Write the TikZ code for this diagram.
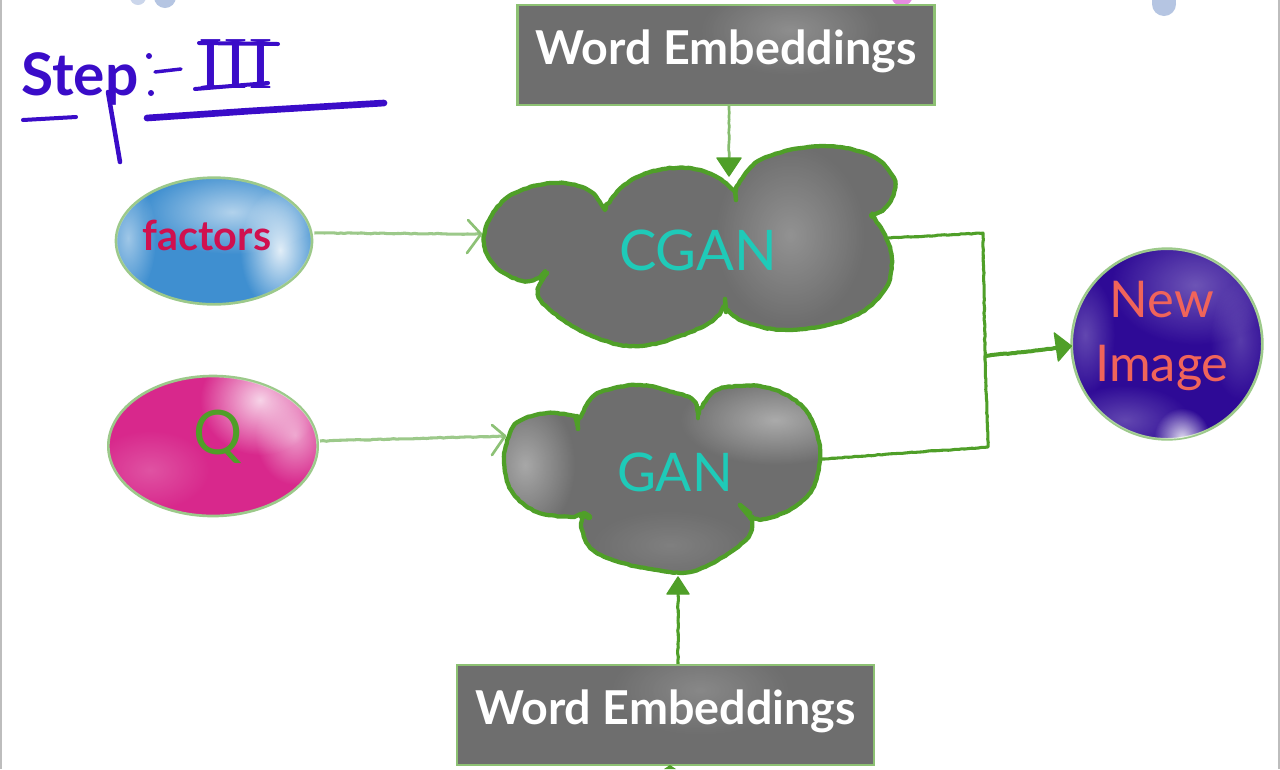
\documentclass[tikz,border=0pt]{standalone}
\usepackage{fontspec}
\setmainfont{Lato}
\newfontfamily\serifhand{Liberation Serif}
\usetikzlibrary{arrows.meta,decorations.pathmorphing,shapes.geometric,calc,fadings}
\definecolor{inkgreen}{HTML}{4F9F28}
\definecolor{palegreen}{HTML}{9CC98A}
\definecolor{slate}{HTML}{6E6E6E}
\definecolor{penblue}{HTML}{3A0CC8}
\definecolor{teal}{HTML}{1FCAB8}
\definecolor{skyb}{HTML}{3F8FD0}
\definecolor{rosem}{HTML}{D8288C}
\definecolor{indigoc}{HTML}{2E0A96}
\definecolor{coral}{HTML}{F0645A}
\definecolor{crim}{HTML}{D0104F}
\definecolor{dotblue}{HTML}{B5C5E2}
\definecolor{dotpink}{HTML}{E58BE0}
\definecolor{edgegray}{HTML}{BDBDBD}
\tikzfading[name=softblot,inner color=transparent!0,outer color=transparent!100]
\tikzset{
  rough/.style={decorate,decoration={random steps,segment length=2.5pt,amplitude=.3pt}},
  wordbox/.style={draw=inkgreen!65!white,line width=1.8pt,minimum width=313pt,minimum height=75pt,inner sep=0pt},
  wordtext/.style={text=white,inner sep=0pt,font=\fontsize{35}{37}\selectfont\bfseries},
  oval/.style={ellipse,draw=palegreen,line width=2pt,inner sep=0pt},
  darkline/.style={draw=inkgreen,line width=2.3pt,rough},
  paleline/.style={draw=palegreen,line width=2.3pt,rough},
  headline/.style={draw=palegreen!80!inkgreen,line width=2pt,line cap=round,line join=round},
  cloudline/.style={draw=inkgreen,line width=3.2pt,line join=round,rough},
  notch/.style={draw=inkgreen,line width=3.4pt,line cap=round},
  solidhead/.style={draw=inkgreen,fill=inkgreen,line width=1pt,line join=round},
  cloudtext/.style={text=teal,font=\fontsize{42}{44}\selectfont},
  pen/.style={draw=penblue,line cap=round},
  blot/.style={fill=white,path fading=softblot,fill opacity=#1}
}
\newcommand{\cganpath}{(605,210) -- plot[smooth,tension=.65] coordinates {(606,208)(622,187)(650,172)(685,168)(715,176)(735,192)} -- plot[smooth,tension=.65] coordinates {(736,190)(760,160)(820,146)(870,155)(892,175)(894,192)(885,208)(871,215)} -- plot[smooth,tension=.65] coordinates {(872,217)(885,235)(892,262)(883,292)(850,318)(790,330)(745,322)(725,307)} -- plot[smooth,tension=.65] coordinates {(724,309)(700,328)(640,346)(590,335)(550,310)(538,292)(547,273)} -- plot[smooth,tension=.65] coordinates {(545,274)(525,281)(497,268)(484,243)(492,215)(515,193)(555,183)(588,190)(603,207)} -- cycle}
\newcommand{\ganpath}{(577,425) -- plot[smooth,tension=.65] coordinates {(578,423)(590,400)(607,390)(640,385)(673,392)(693,400)(698,415)} -- plot[smooth,tension=.65] coordinates {(699,413)(713,392)(737,386)(763,387)(790,397)(810,417)(820,450)(815,483)(800,503)(773,517)(753,518)(740,505)} -- plot[smooth,tension=.65] coordinates {(752,520)(748,537)(723,557)(690,572)(657,570)(623,563)(593,550)(582,530)(583,517)} -- plot[smooth,tension=.65] coordinates {(581,517)(540,513)(513,493)(504,463)(510,433)(522,420)(547,413)(575,416)} -- cycle}
\begin{document}
\begin{tikzpicture}[x=.75pt,y=-.75pt]
\useasboundingbox (0,0) rectangle (1280,769);
\fill[white] (0,0) rectangle (1280,769);
% window edges and cropped dots
\fill[edgegray] (0,0) rectangle (2,769);
\fill[edgegray] (1278,0) rectangle (1280,769);
\begin{scope}
\clip (0,0) rectangle (1280,769);
\fill[dotblue!70!white] (138,-3) circle (8);
\fill[dotblue] (165,-3) circle (11);
\fill[dotpink] (902,-5) circle (11);
\fill[dotblue] (1152,-5) rectangle (1176,4);
\fill[dotblue] (1164,4) circle (12);
\end{scope}

% handwritten title
\node[text=penblue,font=\fontsize{44}{46}\selectfont\bfseries,anchor=base west,inner sep=0pt] (steplabel) at (21,95) {Step};
\fill[penblue] (149,56) circle (3) (151,93) circle (3);
\draw[pen,line width=2.6pt] (155,72) -- (181,69);
\node[text=penblue,font=\serifhand\fontsize{56}{58}\selectfont,anchor=base,inner sep=0pt] (numeral) at (236,88) {III};
\draw[pen,line width=3pt] (199,43) -- (278,44);
\draw[pen,line width=3pt] (195,89) -- (268,83);
\draw[pen,line width=3pt] (23,120) -- (76,117);
\draw[pen,line width=3.4pt] (108,92) -- (120,162);
\draw[pen,line width=5pt] (147,118) -- (250,111) -- (384,103);

% boxes
\node[wordbox,fill=slate] (wtop) at (726,55) {};
\begin{scope}
\clip (517,5) rectangle (935,105);
\path[blot=.22] (790,30) ellipse [x radius=90,y radius=45];
\end{scope}
\node[wordtext] (wtoptext) at (726,51) {Word Embeddings};
\node[wordbox,fill=slate] (wbot) at (665.5,715) {};
\begin{scope}
\clip (457,665) rectangle (874,765);
\path[blot=.18] (700,690) ellipse [x radius=90,y radius=45];
\end{scope}
\node[wordtext] (wbottext) at (665.5,711) {Word Embeddings};

% ovals
\node[oval,fill=skyb,minimum width=147pt,minimum height=95pt] (factors) at (214,241) {};
\begin{scope}
\clip (214,241) ellipse [x radius=97,y radius=62];
\path[blot=.6] (232,212) ellipse [x radius=90,y radius=42];
\path[blot=.85] (280,250) ellipse [x radius=40,y radius=62];
\path[blot=.5] (128,238) ellipse [x radius=28,y radius=60];
\end{scope}
\node[text=crim,font=\fontsize{31}{33}\selectfont\bfseries,inner sep=0pt] (factext) at (207,235) {factors};

\node[oval,fill=rosem,minimum width=157pt,minimum height=105pt] (qoval) at (213,446) {};
\begin{scope}
\clip (213,446) ellipse [x radius=104,y radius=69];
\path[blot=.8] (260,400) ellipse [x radius=60,y radius=55];
\path[blot=.55] (295,435) ellipse [x radius=40,y radius=50];
\path[blot=.2] (150,470) ellipse [x radius=60,y radius=40];
\end{scope}
\node[text=inkgreen,font=\fontsize{46}{48}\selectfont,inner sep=0pt] (qtext) at (218,437) {Q};

\node[oval,fill=indigoc,minimum width=143pt,minimum height=143pt] (newimg) at (1167,344) {};
\begin{scope}
\clip (1167,344) circle (95);
\path[blot=.3] (1195,285) ellipse [x radius=85,y radius=60];
\path[blot=.25] (1085,335) ellipse [x radius=30,y radius=60];
\path[blot=.25] (1125,420) ellipse [x radius=65,y radius=35];
\path[blot=.85] (1182,438) ellipse [x radius=28,y radius=30];
\path[blot=.2] (1240,340) ellipse [x radius=30,y radius=60];
\end{scope}
\node[text=coral,font=\fontsize{38}{42}\selectfont,align=center,inner sep=0pt] (newtext) at (1162,336) {New\\[6pt]Image};

% clouds
\path[fill=slate] \cganpath;
\begin{scope}
\clip \cganpath;
\path[blot=.25] (790,235) ellipse [x radius=75,y radius=90];
\end{scope}
\draw[cloudline] \cganpath;
\draw[notch] (547,273) -- (541,280);
\draw[notch] (735,190) -- (736,200);
\draw[notch] (725,299) -- (726,312);
\node[cloudtext] (cgan) at (698,250) {CGAN};

\path[fill=slate] \ganpath;
\begin{scope}
\clip \ganpath;
\path[blot=.4] (525,465) ellipse [x radius=50,y radius=70];
\path[blot=.42] (775,420) ellipse [x radius=95,y radius=45];
\path[blot=.12] (670,545) ellipse [x radius=80,y radius=35];
\end{scope}
\draw[cloudline] \ganpath;
\draw[notch] (577,416) -- (578,429);
\draw[notch] (698,410) -- (698,418);
\draw[notch] (740,505) -- (750,513);
\draw[notch,line width=5pt] (584,514) -- (589,517);
\node[cloudtext,font=\fontsize{40}{42}\selectfont] (gan) at (675,472) {GAN};

% connector end points
\coordinate (cganN) at (729,176);
\coordinate (cganW) at (481,234);
\coordinate (cganE) at (888,238);
\coordinate (ganW) at (505,436);
\coordinate (ganS) at (678,577);
\coordinate (ganE) at (821,459);
\coordinate (busTop) at (983,233);
\coordinate (busMid) at (985,356);
\coordinate (busBot) at (988,447);
\coordinate (imgW) at (newimg.west);

\draw[draw=palegreen!70!inkgreen,line width=2pt,rough] (wtop.south -| cganN) -- ($(cganN)+(0,-18)$);
\draw[solidhead] (cganN) -- ++(-12,-18) -- ++(24,0) -- cycle;
\draw[paleline] (factors.east) ++(1,-8) -- (cganW);
\draw[headline] (468,220) -- (cganW) -- (467,253);
\draw[paleline] (qoval.east) ++(1,-5) -- (ganW);
\draw[headline] (492,425) -- (ganW) -- (492,455);
\draw[darkline] (wbot.north -| ganS) -- ($(ganS)+(0,16)$);
\draw[solidhead] (ganS) -- ++(-11,17) -- ++(22,0) -- cycle;
\draw[darkline,line join=round] (cganE) -- (busTop) -- (busMid) -- (busBot) -- (ganE);
\draw[darkline,line width=3pt] (busMid) -- (1058,348);
\draw[solidhead] (imgW) ++(1,2) -- ++(-17,-13) -- ++(4,28) -- cycle;
% cropped arrow at lower edge
\begin{scope}
\clip (0,0) rectangle (1280,769);
\fill[inkgreen] (664,769) -- (670,765) -- (676,769) -- cycle;
\end{scope}
\end{tikzpicture}
\end{document}
